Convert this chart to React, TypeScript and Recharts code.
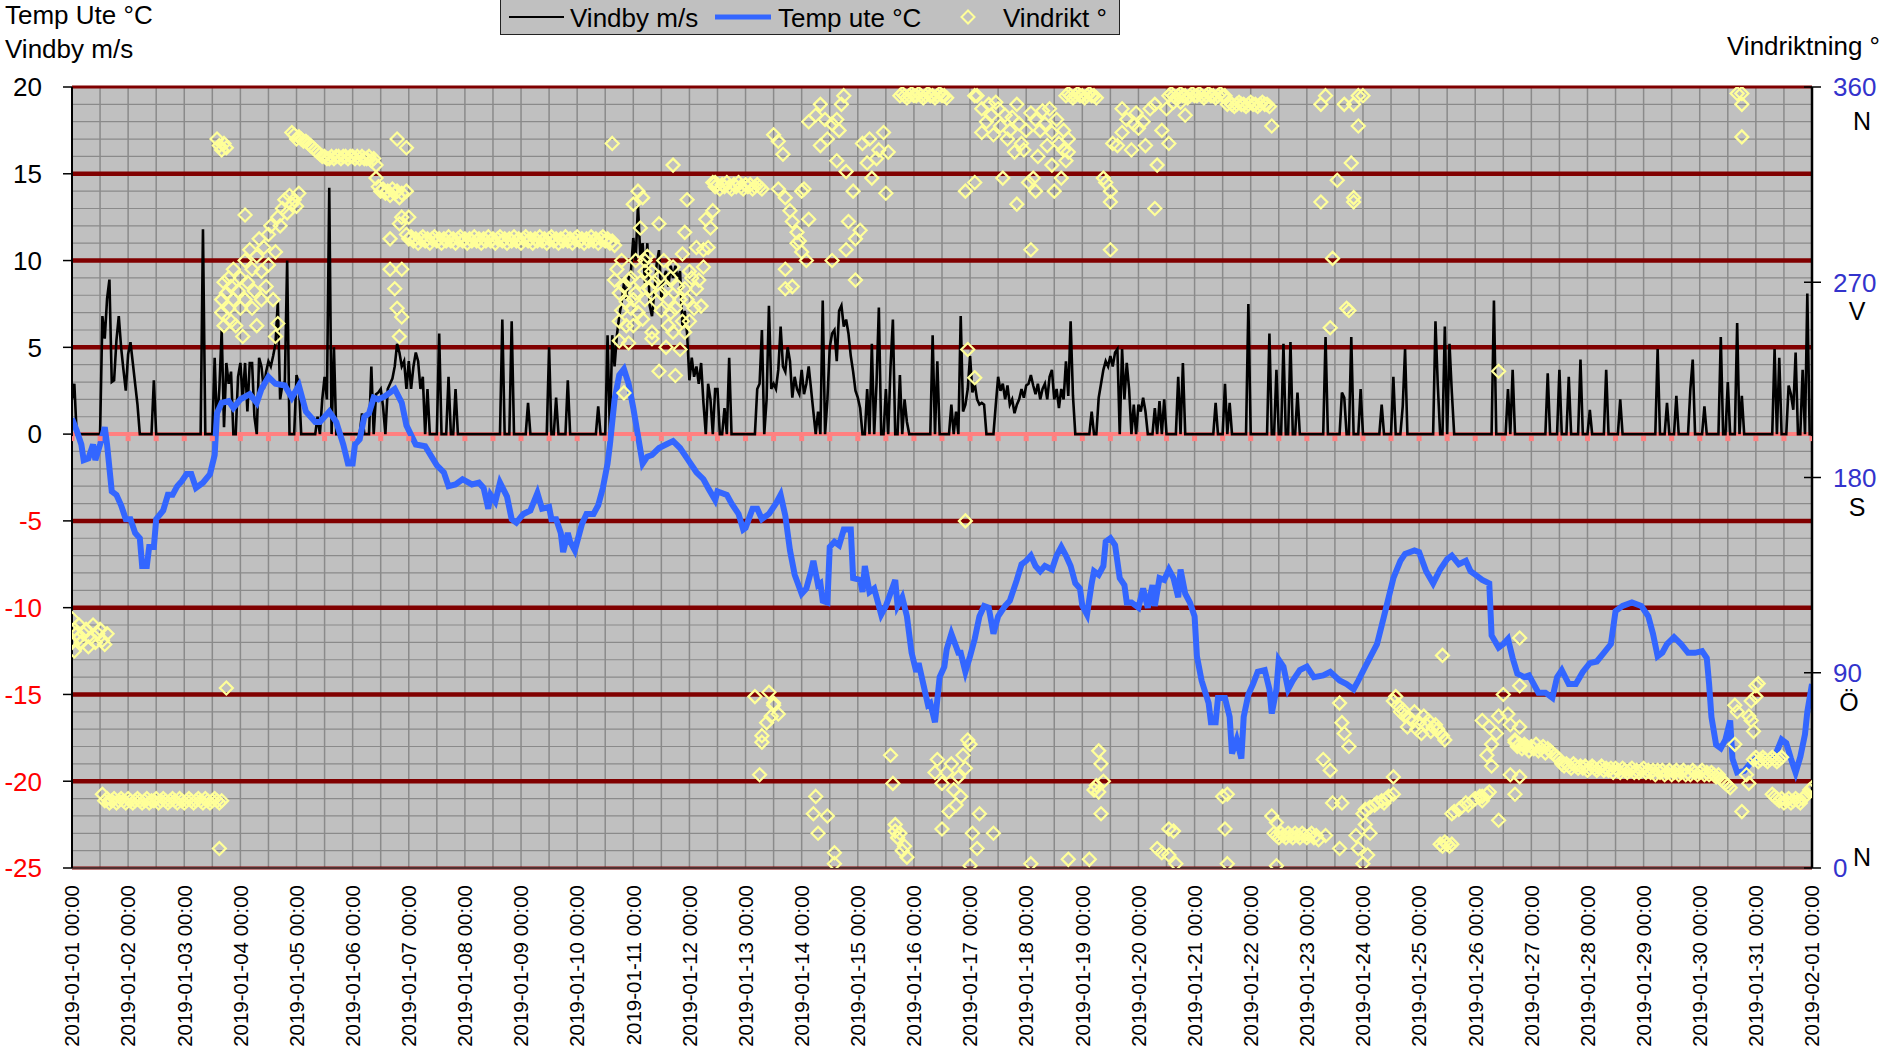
import React from 'react';
import { ComposedChart, Line, Scatter, XAxis, YAxis, CartesianGrid, ReferenceLine } from 'recharts';

const FONT = '"Liberation Sans", Arial, Helvetica, sans-serif';
const W = 1881;
const H = 1051;

const DAY_LABELS = [
  '2019-01-01 00:00', '2019-01-02 00:00', '2019-01-03 00:00', '2019-01-04 00:00', '2019-01-05 00:00',
  '2019-01-06 00:00', '2019-01-07 00:00', '2019-01-08 00:00', '2019-01-09 00:00', '2019-01-10 00:00',
  '2019-01-11 00:00', '2019-01-12 00:00', '2019-01-13 00:00', '2019-01-14 00:00', '2019-01-15 00:00',
  '2019-01-16 00:00', '2019-01-17 00:00', '2019-01-18 00:00', '2019-01-19 00:00', '2019-01-20 00:00',
  '2019-01-21 00:00', '2019-01-22 00:00', '2019-01-23 00:00', '2019-01-24 00:00', '2019-01-25 00:00',
  '2019-01-26 00:00', '2019-01-27 00:00', '2019-01-28 00:00', '2019-01-29 00:00', '2019-01-30 00:00',
  '2019-01-31 00:00', '2019-02-01 00:00',
];

const DIR_TICKS = [0, 90, 180, 270, 360];
const COMPASS_LETTERS = ['N', 'Ö', 'S', 'V', 'N'];
const MAJOR_LINES = [-20, -15, -10, -5, 5, 10, 15];
const EDGE_LINES = [20, -25];

// [hour since 2019-01-01 00:00, °C]
const TEMP_UTE: [number, number][] = [
  [0,0.9],[2,0.2],[4,-0.6],[5,-1.5],[7,-1.4],[9,-0.6],[10,-1.5],[12,-0.6],[14,0.4],[15,-0.6],[17,-3.3],[19,-3.5],[21,-4.1],[23,-4.9],[25,-4.9],[27,-5.7],[29,-6.0],[30,-7.6],[32,-7.6],[33,-6.5],[35,-6.5],[36,-4.9],[39,-4.4],[41,-3.5],[43,-3.5],[45,-3.0],[47,-2.7],[49,-2.3],[51,-2.3],[53,-3.1],[56,-2.8],[59,-2.3],[61,-1.2],[62,1.2],[64,1.8],[67,1.9],[69,1.5],[72,2.0],[76,2.3],[79,1.8],[81,2.6],[84,3.3],[87,2.9],[91,2.8],[94,2.1],[97,2.8],[100,1.3],[104,0.7],[106,0.7],[110,1.3],[113,0.7],[116,-0.6],[118,-1.7],[120,-1.7],[121,-0.6],[123,-0.3],[125,1.0],[127,1.2],[129,2.1],[131,2.0],[134,2.2],[138,2.6],[141,1.8],[143,0.5],[147,-0.6],[151,-0.7],[156,-1.8],[159,-2.2],[161,-3.0],[164,-2.9],[167,-2.6],[171,-2.9],[174,-2.8],[176,-3.1],[178,-4.3],[179,-3.5],[181,-3.9],[183,-2.8],[186,-3.6],[188,-4.9],[190,-5.1],[193,-4.6],[196,-4.4],[199,-3.4],[201,-4.3],[204,-4.2],[205,-4.9],[207,-4.9],[209,-5.7],[210,-6.8],[212,-5.7],[213,-6.2],[215,-6.7],[218,-5.2],[220,-4.6],[223,-4.6],[225,-4.1],[227,-3.1],[229,-1.7],[230,-0.6],[232,2.0],[234,3.4],[236,3.75],[238,2.9],[240,1.5],[242,-0.1],[244,-1.7],[246,-1.3],[248,-1.2],[251,-0.8],[254,-0.6],[257,-0.4],[260,-0.8],[263,-1.4],[267,-2.2],[270,-2.6],[272,-3.1],[275,-3.8],[276,-3.3],[280,-3.5],[282,-4.0],[285,-4.6],[287,-5.5],[288,-5.4],[291,-4.3],[293,-4.3],[295,-4.9],[298,-4.6],[301,-4.0],[303,-3.5],[305,-4.7],[307,-6.7],[309,-8.1],[312,-9.2],[314,-8.9],[316,-7.9],[317,-7.3],[319,-8.7],[320,-8.6],[321,-9.6],[323,-9.7],[324,-6.5],[326,-6.2],[328,-6.4],[330,-5.5],[333,-5.5],[334,-8.3],[337,-8.4],[338,-9.1],[339,-7.6],[341,-9.1],[343,-8.9],[346,-10.4],[348,-9.9],[352,-8.4],[353,-9.9],[355,-9.4],[357,-10.5],[359,-12.6],[361,-13.7],[362,-13.2],[364,-14.4],[366,-15.6],[367,-15.5],[369,-16.6],[371,-14.0],[373,-13.4],[374,-12.4],[376,-11.5],[379,-12.6],[380,-12.6],[382,-13.7],[384,-12.8],[386,-11.8],[388,-10.5],[390,-9.9],[392,-10.0],[394,-11.5],[396,-10.5],[399,-9.9],[401,-9.6],[404,-8.4],[406,-7.5],[408,-7.3],[410,-7.0],[412,-7.6],[414,-7.9],[416,-7.6],[419,-7.8],[421,-7.0],[423,-6.5],[425,-7.0],[427,-7.6],[429,-8.6],[431,-8.9],[432,-9.9],[434,-10.4],[436,-8.6],[437,-7.9],[439,-8.1],[441,-7.6],[442,-6.2],[444,-6.0],[446,-6.4],[448,-8.3],[450,-8.7],[451,-9.7],[453,-9.7],[456,-10.0],[458,-8.9],[460,-10.0],[462,-8.7],[463,-9.9],[465,-8.3],[467,-8.4],[469,-7.8],[471,-8.3],[473,-9.4],[474,-7.8],[476,-9.2],[478,-9.7],[480,-10.5],[481,-12.8],[483,-14.2],[486,-15.5],[487,-16.6],[489,-16.6],[490,-15.2],[493,-15.2],[495,-16.3],[496,-18.4],[498,-17.6],[500,-18.7],[501,-16.3],[503,-15.0],[505,-14.4],[507,-13.7],[510,-13.6],[512,-14.7],[513,-16.1],[515,-14.7],[516,-13.0],[518,-13.4],[520,-14.7],[522,-14.2],[525,-13.6],[528,-13.4],[531,-14.0],[535,-13.9],[538,-13.7],[542,-14.2],[545,-14.4],[548,-14.7],[550,-14.2],[553,-13.4],[558,-12.1],[561,-10.5],[565,-8.3],[568,-7.3],[570,-6.9],[574,-6.7],[576,-6.8],[579,-7.9],[582,-8.6],[585,-7.8],[588,-7.2],[590,-7.0],[593,-7.5],[596,-7.3],[598,-7.9],[600,-8.1],[603,-8.4],[606,-8.6],[607,-11.6],[610,-12.3],[612,-12.1],[614,-11.8],[616,-12.9],[618,-13.8],[621,-14.0],[623,-13.9],[627,-14.9],[630,-14.9],[633,-15.2],[635,-14.0],[637,-13.6],[640,-14.4],[643,-14.4],[646,-13.7],[649,-13.2],[652,-13.1],[655,-12.6],[658,-12.1],[660,-10.2],[663,-9.9],[667,-9.7],[671,-9.9],[674,-10.5],[676,-11.5],[678,-12.8],[680,-12.6],[682,-12.1],[685,-11.7],[688,-12.1],[691,-12.6],[694,-12.6],[697,-12.5],[699,-12.9],[700,-14.4],[701,-16.3],[703,-17.9],[705,-18.1],[707,-17.6],[709,-16.5],[710,-18.7],[712,-19.5],[715,-19.4],[718,-18.9],[721,-18.6],[724,-18.6],[728,-18.6],[731,-17.6],[733,-17.8],[735,-18.7],[737,-19.5],[739,-18.6],[741,-17.3],[742,-16.0],[744,-14.4],
];

// [hour, m/s]
const VINDBY: [number, number][] = [
  [0,2.0],[1,2.9],[2,0],[12,0],[13,6.8],[14,5.5],[15,7.8],[16,8.9],[17,3.0],[18,3.1],[19,5.4],[20,6.8],[21,5.0],[22,3.7],[23,2.5],[24,4.6],[25,5.3],[26,4.1],[27,2.9],[28,1.7],[29,0],
  [34,0],[35,3.1],[36,0],[55,0],[56,11.8],[57,0],
  [60,0],[61,4.4],[62,0.4],[63,2.6],[64,6.0],[65,0.4],[66,4.1],[67,2.9],[68,3.6],[69,0],[70,0],[71,3.3],[72,4.1],[73,2.0],[74,4.1],[75,1.3],[76,4.1],[77,4.1],[78,1.0],[79,0],[80,4.4],[81,3.9],[82,2.6],[83,3.6],[84,4.2],[85,3.9],[86,4.5],[87,5.2],[88,7.6],[89,2.0],[90,2.9],[91,3.0],[92,10.0],[93,0],[95,0],[96,3.4],[97,2.9],[98,0],
  [104,0],[105,1.0],[106,0],[107,2.0],[108,3.3],[109,2.0],[110,14.2],[111,0],[112,5.0],[113,0],
  [123,0],[124,1.2],[125,0],[127,0],[128,3.9],[129,0],[130,2.3],[131,2.4],[132,2.6],[133,1.6],[134,0],[135,2.6],[136,2.9],[137,3.2],[138,3.9],[139,5.2],[140,4.7],[141,3.9],[142,4.2],[143,2.6],[144,4.2],[145,2.6],[146,3.9],[147,4.7],[148,4.2],[149,2.6],[150,3.3],[151,0],[152,2.6],[153,0],
  [156,0],[157,5.8],[158,0],[160,0],[161,3.3],[162,0],[163,0],[164,2.6],[165,0],
  [183,0],[184,6.6],[185,0],[187,0],[188,6.5],[189,0],[194,0],[195,1.8],[196,0],
  [203,0],[204,5.0],[205,0],[206,0],[207,2.1],[208,0],[211,0],[212,3.1],[213,0],
  [224,0],[225,1.6],[226,0],[228,0],[229,5.7],[230,0],[231,5.7],[232,3.9],[233,5.7],[234,6.8],[235,7.6],[236,8.7],[237,7.8],[238,9.0],[239,9.4],[240,11.3],[241,10.0],[242,13.2],[243,10.3],[244,11.0],[245,8.7],[246,11.0],[247,7.4],[248,6.8],[249,8.2],[250,9.8],[251,10.6],[252,7.8],[253,9.0],[254,9.4],[255,8.5],[256,9.7],[257,9.0],[258,9.7],[259,8.9],[260,9.4],[261,6.2],[262,7.1],[263,5.8],[264,3.1],[265,4.4],[266,3.3],[267,3.9],[268,2.9],[269,4.1],[270,1.8],[271,0],[272,2.9],[273,2.0],[274,0],[275,2.6],[276,2.6],[277,0],
  [278,0],[279,1.5],[280,0],[281,4.4],[282,0],
  [292,0],[293,2.6],[294,2.9],[295,6.0],[296,0],[297,2.0],[298,7.4],[299,2.6],[300,2.9],[301,2.6],[302,3.7],[303,6.2],[304,3.9],[305,3.6],[306,5.0],[307,4.2],[308,2.1],[309,3.3],[310,2.6],[311,2.3],[312,3.7],[313,2.3],[314,2.9],[315,3.9],[316,2.6],[317,1.3],[318,0],[319,1.3],[320,0],[321,7.7],[322,0],[323,2.0],[324,5.0],[325,5.8],[326,6.0],[327,4.2],[328,7.1],[329,7.4],[330,6.2],[331,6.6],[332,5.8],[333,4.5],[334,3.6],[335,2.5],[336,2.1],[337,1.5],[338,0],[339,0],[340,2.6],[341,0],[342,5.2],[343,0],[344,2.9],[345,7.3],[346,0],[347,0],[348,2.6],[349,0],[350,3.9],[351,6.6],[352,0],[353,0],[354,3.4],[355,0],[356,2.0],[357,0.7],[358,0],
  [367,0],[368,5.7],[369,0],[370,4.2],[371,0],
  [375,0],[376,1.7],[377,0],[378,1.3],[379,0],[380,6.8],[381,1.3],[382,1.7],[383,2.6],[384,4.5],[385,2.4],[386,2.9],[387,2.0],[388,1.7],[389,1.8],[390,1.7],[391,0],[394,0],[395,1.7],[396,3.3],[397,2.5],[398,2.9],[399,2.0],[400,2.8],[401,1.7],[402,2.0],[403,1.2],[404,1.7],[405,2.0],[406,2.6],[407,2.1],[408,2.8],[409,2.9],[410,3.4],[411,2.8],[412,2.3],[413,2.9],[414,2.0],[415,2.6],[416,2.9],[417,2.0],[418,3.3],[419,3.7],[420,2.0],[421,2.6],[422,1.5],[423,2.6],[424,2.0],[425,4.2],[426,2.2],[427,6.5],[428,2.2],[429,0],
  [435,0],[436,1.3],[437,0],[438,0],[439,2.1],[440,2.9],[441,3.7],[442,4.2],[443,3.9],[444,4.5],[445,3.9],[446,4.7],[447,4.9],[448,0],[449,4.9],[450,2.0],[451,4.1],[452,2.6],[453,0],[454,1.7],[455,0],[456,1.7],[457,1.3],[458,2.1],[459,1.3],[460,0],[462,0],[463,1.5],[464,0],[465,1.9],[466,0],[467,2.0],[468,0],
  [472,0],[473,3.3],[474,0],[475,4.1],[476,0],
  [488,0],[489,1.8],[490,0],[492,0],[493,2.9],[494,0],[495,1.8],[496,0],
  [502,0],[503,7.5],[504,0],
  [511,0],[512,5.8],[513,0],[514,0],[515,3.7],[516,0],[517,0],[518,5.2],[519,0],[520,0],[521,5.3],[522,0],[523,0],[524,2.4],[525,0],
  [535,0],[536,5.6],[537,0],[542,0],[543,2.4],[544,2.1],[545,0],[546,0],[547,5.6],[548,0],[550,0],[551,2.6],[552,0],
  [559,0],[560,1.7],[561,0],[564,0],[565,3.3],[566,0],[568,0],[569,1.6],[570,4.9],[571,0],
  [582,0],[583,6.5],[584,2.8],[585,0],[586,0],[587,6.2],[588,0],[589,5.2],[590,2.4],[591,0],
  [607,0],[608,7.7],[609,0],[613,0],[614,2.6],[615,0],[616,3.7],[617,0],
  [630,0],[631,3.5],[632,0],[635,0],[636,3.7],[637,0],[639,0],[640,3.3],[641,0],[644,0],[645,4.3],[646,0],[648,0],[649,1.4],[650,0],[655,0],[656,3.7],[657,0],[661,0],[662,2.0],[663,0],
  [677,0],[678,4.9],[679,0],[681,0],[682,1.8],[683,0],[685,0],[686,2.2],[687,0],[691,0],[692,2.6],[693,4.3],[694,0],[697,0],[698,1.6],[699,0],[704,0],[705,5.6],[706,0],[707,0],[708,3.0],[709,0],[711,0],[712,6.4],[713,0],[714,2.2],[715,0],
  [727,0],[728,4.9],[729,0],[730,4.4],[731,0],[733,0],[734,2.8],[735,2.3],[736,1.4],[737,4.7],[738,0],[739,0],[740,3.7],[741,0],[742,8.1],[743,0],[744,0],
];

// [hour, degrees]
const VINDRIKT_1: [number, number][] = [
  [0,115],[0,104],[1,110],[1,100],[2,108],[3,106],[3,112],[4,104],[5,108],[6,110],[7,102],[8,106],[9,112],[10,104],[11,108],[12,110],[13,105],[14,103],[15,108],
  [13,34],[14,31],[15,32],[16,30],[17,31],[18,32],[19,30],[20,31],[21,32],[22,31],[23,30],[24,32],[25,31],[26,30],[27,31],[28,32],[29,31],[30,30],[31,31],[32,32],[33,30],[34,31],[35,31],[36,32],[37,30],[38,31],[39,32],[40,31],[41,30],[42,31],[43,32],[44,31],[45,30],[46,32],[47,31],[48,30],[49,31],[50,32],[51,31],[52,30],[53,31],[54,32],[55,31],[56,30],[57,32],[58,31],[59,30],[60,31],[61,32],[62,31],[63,30],[64,31],
  [63,9],[66,83],[62,336],[63,333],[64,331],[65,334],[66,332],
  [64,262],[64,256],[65,270],[65,250],[66,265],[67,258],[67,272],[68,268],[68,252],[69,262],[69,276],[70,250],[71,266],[72,272],[72,258],[73,245],[74,262],[74,280],[74,301],[75,270],[76,285],[77,276],[77,258],[78,266],[79,282],[79,250],[80,290],[81,275],[81,262],[82,286],[83,268],[84,292],[84,278],[85,296],[86,262],[87,284],[87,245],[88,300],[88,251],[89,296],[90,304],[91,308],[92,302],[93,310],[94,306],[95,308],[96,305],[97,311],
  [94,339],[95,338],[96,336],[97,337],[98,336],[99,335],[100,335],[101,334],[102,333],[103,332],[104,331],[105,330],[106,329],[107,328],[108,328],[109,327],[110,327],[111,328],[112,327],[113,328],[114,328],[115,327],[116,328],[117,328],[118,327],[119,328],[120,328],
];
const VINDRIKT_2: [number, number][] = [
  [121,327],[122,328],[123,327],[124,328],[125,327],[126,327],[127,328],[128,326],[129,327],[130,324],
  [130,318],[131,314],[132,312],[133,313],[134,311],[135,312],[136,310],[137,313],[138,311],[139,312],[140,309],[141,311],
  [139,336],[143,332],[143,312],[144,300],[140,297],[141,300],[136,276],[138,267],[141,276],[139,258],[141,254],[140,245],[136,290],
  [143,292],[144,290],[145,291],[146,289],[147,290],[148,288],[149,290],[150,291],[151,289],[152,290],[153,288],[154,290],[155,291],[156,289],[157,290],[158,288],[159,290],[160,289],[161,291],[162,289],[163,290],[164,288],[165,290],[166,291],[167,289],[168,290],[169,288],[170,290],[171,289],[172,291],[173,289],[174,290],[175,288],[176,290],[177,289],[178,291],[179,289],[180,290],[181,288],[182,290],[183,291],[184,289],[185,290],[186,288],[187,290],[188,289],[189,291],[190,289],[191,290],[192,288],[193,290],[194,291],[195,289],[196,290],[197,288],[198,290],[199,289],[200,291],[201,289],[202,290],[203,288],[204,290],[205,291],[206,289],[207,290],[208,288],[209,290],[210,289],[211,291],[212,289],[213,290],[214,288],[215,290],[216,291],[217,289],[218,290],[219,288],[220,290],[221,289],[222,291],[223,289],[224,290],[225,288],[226,290],[227,291],[228,289],[229,290],[230,288],[231,289],[232,287],
  [231,334],[232,271],[234,265],[235,280],[234,252],[235,257],[237,261],[238,271],[240,262],[241,280],[243,295],[240,306],[242,312],[244,309],[245,275],[247,267],[248,247],[244,253],[240,250],[238,242],[234,243],[236,219],
  [233,276],[236,268],[237,250],[239,258],[239,272],[241,265],[242,256],[243,270],[245,262],[246,282],
];
const VINDRIKT_3: [number, number][] = [
  [245,280],[247,267],[248,275],[250,261],[251,272],[252,257],[254,267],[255,262],[256,272],[257,277],[258,258],[260,262],[261,252],[262,267],[264,275],[265,272],[267,267],[268,271],[269,259],[270,285],[272,286],[273,295],[274,303],[275,316],[248,244],[254,240],[260,239],[251,229],[258,227],[262,247],[264,252],[257,247],[261,283],[267,286],[270,277],[262,293],[271,299],[263,308],[257,324],[251,297],[249,270],[253,280],[255,250],[259,268],[263,262],[266,258],[252,265],[256,256],
  [274,316],[275,314],[276,315],[277,313],[278,315],[279,314],[280,316],[281,314],[282,313],[283,315],[284,314],[285,316],[286,314],[287,313],[288,315],[289,314],[290,315],[291,313],[292,314],[293,315],[294,314],[295,313],
  [300,338],[302,335],[304,329],[302,313],[305,309],[307,303],[308,298],[310,293],[310,288],[312,284],[314,280],[305,276],[308,268],[305,267],[312,312],[315,299],[311,289],[313,313],
  [315,344],[320,352],[322,345],[325,343],[327,345],[330,356],[328,340],[320,333],[323,336],[327,326],[331,321],[334,312],[332,298],[337,294],[335,290],[331,285],[325,280],[335,271],[338,334],[341,336],[344,327],[347,339],[349,330],[342,318],[348,311],[345,331],[340,325],[318,347],[329,352],
  [354,356],[355,357],[356,356],[357,355],[358,356],[359,357],[360,356],
  [292,79],[298,81],[300,75],[302,71],[297,67],[295,61],[295,58],[300,76],[299,70],[294,43],[318,33],[317,25],[323,24],[319,16],[326,7],[326,2],[350,52],[351,39],[352,17],[354,16],[355,8],[352,20],[353,14],[356,10],[357,5],
];
const VINDRIKT_4: [number, number][] = [
  [361,356],[362,357],[363,356],[364,355],[365,356],[366,357],[367,356],[368,356],[369,355],[370,356],[371,357],[372,356],[373,356],[374,355],
  [386,356],[389,350],[392,352],[396,350],[389,339],[394,338],[399,347],[401,340],[404,352],[405,343],[406,334],[408,340],[410,348],[412,345],[414,340],[415,349],[416,343],[419,339],[421,345],[422,334],[424,340],[425,326],[426,336],[423,318],[420,312],[411,318],[412,312],[409,316],[398,318],[404,306],[410,285],[386,316],[382,312],[387,356],[395,353],[400,336],[407,331],[419,324],[424,331],[426,330],[391,344],[393,347],[397,342],[402,346],[403,330],[417,333],[418,350],[413,328],
  [425,356],[426,357],[427,356],[428,355],[429,356],[430,357],[431,356],[432,356],[433,355],[434,356],[435,357],[436,356],[437,356],[438,355],
  [441,318],[442,316],[444,312],[444,307],[444,285],[445,334],[447,333],[449,339],[451,345],[454,343],[455,348],[456,341],[459,333],[461,350],[463,352],[464,324],[463,304],[468,350],[469,334],[471,353],[474,353],[476,347],[449,350],[453,331],[458,344],[466,340],
  [469,356],[470,357],[471,356],[472,355],[473,356],[474,357],[475,356],[476,356],[477,355],[478,356],[479,357],[480,356],
  [382,160],[383,239],[386,226],
  [369,44],[372,39],[374,44],[377,36],[379,42],[381,52],[383,59],[380,33],[384,57],[378,29],[375,26],[372,18],[385,16],[387,9],[388,25],[394,16],[384,1],[370,50],[376,48],[382,46],
  [410,2],[426,4],[435,4],[439,54],[440,48],[437,36],[439,35],[441,40],[440,25],[438,38],[469,18],[471,17],[464,9],[466,7],[469,6],[472,2],
];
const VINDRIKT_5: [number, number][] = [
  [481,356],[482,357],[483,356],[484,355],[485,356],[486,357],[487,356],[488,356],[489,355],[490,356],[491,357],[492,356],[493,356],
  [494,352],[495,353],[496,352],[497,351],[498,352],[499,353],[500,352],[501,352],[502,351],[503,352],[504,353],[505,352],[506,352],[507,351],[508,352],[509,353],[510,352],[511,352],[512,351],[513,342],
  [534,352],[536,356],[544,352],[548,352],[550,356],[552,356],[550,342],[547,325],[541,317],[534,307],[548,309],[548,307],[539,281],[545,258],[546,257],[538,249],
  [492,33],[493,18],[494,2],[494,34],[513,24],[515,21],[515,1],
  [514,16],[515,15],[516,14],[517,16],[518,15],[519,14],[520,16],[521,15],[522,14],[523,16],[524,15],[525,14],[526,16],[527,15],[528,14],[529,15],[530,16],[531,14],[532,15],[533,13],
  [536,15],[542,9],[535,50],[538,45],[542,76],[543,67],[544,62],[546,56],[539,30],[543,30],[552,25],[553,20],[555,16],[549,15],[550,9],[554,6],[552,2],
  [553,27],[555,28],[557,29],[558,30],[560,31],[561,30],[562,32],[563,33],[565,34],[565,42],
  [565,77],[566,79],[568,72],[570,70],[573,68],[576,67],[579,66],[582,65],[585,62],[587,59],[569,73],[571,65],[574,72],[577,62],[580,68],[583,66],[567,75],[572,69],[575,64],[578,70],[581,63],[584,64],[586,61],
  [586,98],
  [585,11],[586,10],[587,12],[588,11],[589,10],[590,11],
  [590,25],[593,27],[596,30],[599,31],[602,33],[605,34],[591,26],[594,28],[597,29],[600,32],[603,33],[606,35],
];
const VINDRIKT_6: [number, number][] = [
  [603,68],[606,65],[607,57],[609,62],[610,70],[612,80],[614,71],[615,66],[617,59],[619,65],[621,56],[605,52],[607,47],[603,31],[610,22],[615,43],[617,34],[619,42],[619,106],[619,84],[610,229],
  [617,58],[618,56],[619,57],[620,55],[621,57],[622,56],[623,54],[624,56],[625,55],[626,57],[627,54],[628,55],[629,56],[630,53],[631,55],[632,54],[633,53],[634,52],[635,51],[636,50],
  [637,48],[638,47],[639,48],[640,47],[641,46],[642,48],[643,47],[644,46],[645,47],[646,46],[647,47],[648,45],[649,46],[650,47],[651,46],[652,45],[653,46],[654,47],[655,45],[656,46],[657,45],[658,46],[659,44],[660,46],[661,45],[662,44],[663,46],[664,45],[665,44],[666,45],[667,46],[668,44],[669,45],[670,44],[671,45],[672,46],[673,44],[674,45],[675,44],[676,45],[677,43],[678,45],[679,44],[680,45],[681,43],[682,44],[683,45],[684,43],[685,44],[686,45],[687,43],[688,44],[689,45],[690,43],[691,44],[692,43],[693,45],[694,44],[695,43],[696,44],[697,45],[698,43],[699,44],[700,43],[701,44],[702,43],[703,42],[704,43],[705,41],[706,40],[707,39],[708,38],[709,37],
  [711,75],[712,72],[717,70],[718,77],[720,84],[720,79],[721,85],[719,63],[718,68],[711,57],[716,43],[717,39],[714,26],[714,357],[712,357],[714,352],[714,337],
  [719,50],[720,51],[721,49],[722,50],[723,51],[724,50],[725,49],[726,50],[727,51],[728,50],[729,49],[730,50],[731,51],
  [727,34],[728,33],[729,32],[730,31],[731,32],[732,30],[733,31],[734,32],[735,30],[736,31],[737,32],[738,31],[739,30],[740,32],[741,33],[742,34],[743,36],[744,37],
];

const tempData = TEMP_UTE.map(([h, v]) => ({ h, v }));
const gustData = VINDBY.map(([h, v]) => ({ h, v }));
const dirData = [...VINDRIKT_1, ...VINDRIKT_2, ...VINDRIKT_3, ...VINDRIKT_4, ...VINDRIKT_5, ...VINDRIKT_6].map(([h, d]) => ({ h, d }));

const hourTicks = Array.from({ length: 63 }, (_, i) => i * 12);
const tempTicks = Array.from({ length: 46 }, (_, i) => i - 25);
const zeroData = hourTicks.map((h) => ({ h, v: 0 }));

// letter centre offset (dx from label start, dy from tick) for compass letters
const LETTER_OFFSET: Record<number, [number, number]> = {
  0: [29, -11], 90: [16, 29], 180: [24, 29], 270: [24, 29], 360: [29, 34],
};

const LeftTick = (props: any) => {
  const { x, y, payload } = props;
  const v = payload.value;
  if (v % 5 !== 0) return <g />;
  return (
    <g>
      <line x1={x + 21} x2={x + 30} y1={y} y2={y} stroke="#000" strokeWidth={1.5} />
      <text x={x} y={y} dy="0.36em" textAnchor="end" fontSize={26} fontFamily={FONT} fill={v < 0 ? '#ff0000' : '#000000'}>
        {v}
      </text>
    </g>
  );
};

const RightTick = (props: any) => {
  const { x, y, payload } = props;
  const v = payload.value;
  const i = DIR_TICKS.indexOf(v);
  const off = LETTER_OFFSET[v] || [20, 29];
  return (
    <g>
      <line x1={x - 29} x2={x - 12} y1={y} y2={y} stroke="#000" strokeWidth={1.5} />
      <text x={x} y={y} dy="0.36em" textAnchor="start" fontSize={26} fontFamily={FONT} fill="#3333cc">{v}</text>
      <text x={x + off[0]} y={y + off[1]} dy="0.36em" textAnchor="middle" fontSize={25} fontFamily={FONT} fill="#000">
        {COMPASS_LETTERS[i]}
      </text>
    </g>
  );
};

const BottomTick = (props: any) => {
  const { x, y, payload } = props;
  const h = payload.value;
  if (h % 24 !== 0) return <g />;
  return (
    <text x={x} y={y} dy={7.3} transform={`rotate(-90 ${x} ${y})`} textAnchor="end" fontSize={20.5} fontFamily={FONT} fill="#000">
      {DAY_LABELS[h / 24]}
    </text>
  );
};

const Diamond = (props: any) => {
  const { cx, cy } = props;
  if (cx == null || cy == null) return <g />;
  const s = 6.5;
  return (
    <path d={`M${cx},${cy - s}L${cx + s},${cy}L${cx},${cy + s}L${cx - s},${cy}Z`} fill="none" stroke="#ffff99" strokeWidth={2.2} />
  );
};

const ZeroDot = (props: any) => {
  const { cx, cy, index } = props;
  if (cx == null || cy == null) return <g key={index} />;
  return <rect key={index} x={cx - 2.5} y={cy + 2} width={5} height={5} fill="#ff8080" />;
};

const Legend = () => (
  <div style={{ position: 'absolute', left: 500, top: -1, width: 620, height: 36, background: '#c0c0c0', border: '1px solid #222', boxSizing: 'border-box' }}>
    <svg width={620} height={36} style={{ position: 'absolute', left: 0, top: 0 }}>
      <line x1={8} x2={63} y1={17} y2={17} stroke="#000" strokeWidth={2} />
      <text x={69} y={27} fontSize={26} fontFamily={FONT} fill="#000">Vindby m/s</text>
      <line x1={214} x2={270} y1={17} y2={17} stroke="#3366ff" strokeWidth={5} />
      <text x={277} y={27} fontSize={26} fontFamily={FONT} fill="#000">Temp ute °C</text>
      <path d="M467,10.5L473.5,17L467,23.5L460.5,17Z" fill="none" stroke="#ffff99" strokeWidth={2} />
      <text x={502} y={27} fontSize={26} fontFamily={FONT} fill="#000">Vindrikt °</text>
    </svg>
  </div>
);

export default function App() {
  return (
    <div style={{ position: 'fixed', left: 0, top: 0, width: W, height: H, overflow: 'hidden', background: '#ffffff', fontFamily: FONT }}>
      <ComposedChart width={W} height={H} margin={{ top: 87, right: 0, bottom: 0, left: 0 }}>
        <CartesianGrid xAxisId="x" yAxisId="t" horizontal={false} vertical stroke="#8a8a8a" strokeWidth={1.5} fill="#c0c0c0" />
        <CartesianGrid xAxisId="x" yAxisId="t" horizontal vertical={false} stroke="#8a8a8a" strokeWidth={1.2} />
        <XAxis
          xAxisId="x" type="number" dataKey="h" domain={[0, 744]} ticks={hourTicks} interval={0}
          tick={BottomTick} tickLine={false} tickSize={5} tickMargin={12} height={183}
          axisLine={{ stroke: '#404040', strokeWidth: 1.5 }} allowDataOverflow
        />
        <YAxis
          yAxisId="t" type="number" domain={[-25, 20]} ticks={tempTicks} interval={0} width={72}
          tick={LeftTick} tickLine={false} tickSize={8} tickMargin={22}
          axisLine={{ stroke: '#000', strokeWidth: 2 }} allowDataOverflow
        />
        <YAxis
          yAxisId="dir" orientation="right" type="number" dataKey="d" domain={[0, 360]} ticks={DIR_TICKS} interval={0} width={69}
          tick={RightTick} tickLine={false} tickSize={9} tickMargin={12}
          axisLine={{ stroke: '#000', strokeWidth: 2.5 }} allowDataOverflow
        />
        {MAJOR_LINES.map((v) => (
          <ReferenceLine key={`m${v}`} xAxisId="x" yAxisId="t" y={v} stroke="#800000" strokeWidth={4.5} />
        ))}
        {EDGE_LINES.map((v) => (
          <ReferenceLine key={`e${v}`} xAxisId="x" yAxisId="t" y={v} stroke="#800000" strokeWidth={3} />
        ))}
        <Line xAxisId="x" yAxisId="t" data={zeroData} dataKey="v" stroke="#ff8080" strokeWidth={4} dot={ZeroDot} isAnimationActive={false} legendType="none" />
        <Line xAxisId="x" yAxisId="t" data={gustData} dataKey="v" name="Vindby m/s" stroke="#000000" strokeWidth={2.6} dot={false} isAnimationActive={false} />
        <Line xAxisId="x" yAxisId="t" data={tempData} dataKey="v" name="Temp ute °C" stroke="#3366ff" strokeWidth={6} dot={false} isAnimationActive={false} />
        <Scatter xAxisId="x" yAxisId="dir" data={dirData} dataKey="d" name="Vindrikt °" shape={Diamond} isAnimationActive={false} />
      </ComposedChart>
      <div style={{ position: 'absolute', left: 5, top: 2, fontSize: 26, lineHeight: '26px', color: '#000', whiteSpace: 'nowrap' }}>Temp Ute °C</div>
      <div style={{ position: 'absolute', left: 5, top: 36, fontSize: 26, lineHeight: '26px', color: '#000', whiteSpace: 'nowrap' }}>Vindby m/s</div>
      <div style={{ position: 'absolute', left: 1727, top: 33, fontSize: 26, lineHeight: '26px', color: '#000', whiteSpace: 'nowrap' }}>Vindriktning °</div>
      <Legend />
    </div>
  );
}
